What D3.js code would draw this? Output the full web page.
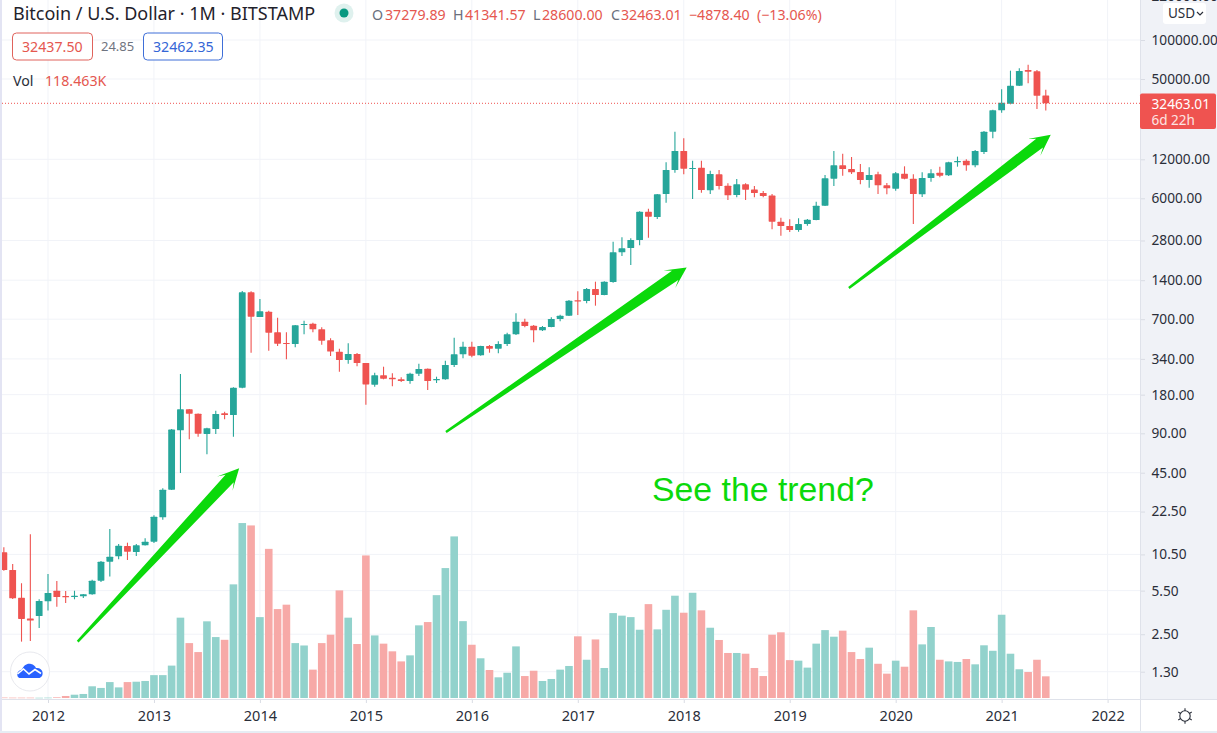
<!DOCTYPE html>
<html><head><meta charset="utf-8">
<script src="https://cdn.jsdelivr.net/npm/d3@7"></script>
<style>html,body{margin:0;padding:0;background:#fff;overflow:hidden}svg{display:block}text{font-family:"Noto Sans",sans-serif}</style>
</head><body><svg id="c" width="1217" height="733"></svg>
<script>
// Monthly candles, Aug 2011 (index 0) to Jun 2021
const open=[11.11,8.11,4.95,3.43,3.58,4.65,5.61,5.11,5.02,5.08,5.27,6.71,9.40,10.35,12.43,11.17,12.58,13.42,20.69,33.8,97.1,141,130.5,91,99.4,131.4,127.5,207,1129,727.7,800,554.5,458.4,450.4,631,646,585,480.9,393,339,377,321.3,218.5,258.2,247.4,240.4,233.3,265.7,290.3,236.2,240.4,310,375,429.5,368.3,434.7,414.1,450.4,534.9,669.4,623.4,574.1,609.2,702.3,744.6,978.9,967,1197,1076,1355,2297,2480,2859,4729,4304,6478,9921,13910,10100,10338,6913,9186,7501,6364,7694,7023,6594,6293,3959,3668,3416,3800,4081,5261,8504,10788,10100,9575,8306,9186,7559,7118,9290,8504,6444,8608,9458,9030,11372,11705,10788,13665,19595,28650,32235,44390,58680,57300,37279.89];
const high=[12.15,9.03,6.41,15.3,4.82,7.56,6.67,5.59,5.61,5.30,6.83,9.52,16.81,12.88,13.18,12.88,14.25,21.44,34.65,99.4,264,141.9,131,101.8,137.6,135.2,208.5,1155,1148,1002,814.5,718.5,554.5,632,681.3,657.7,605.9,498.4,414.1,456,383.7,321.5,270.3,300.8,267.4,249.2,270.3,317.4,291,251.8,334.7,503.7,468.8,468.8,437.1,442.4,472.4,550.5,777,705.9,631,620,723.8,758,984.4,1148,1218,1363,1372,2774,3000,2947,4761,4987,6478,11372,19595,17430,11705,11705,9798,9921,7831,8455,7831,7466,6833,6478,4252,4131,4204,4153,5647,9079,13910,13253,12500,11038,10408,9625,7875,9575,10595,9186,9523,10044,10523,11496,12585,12000,14158,19843,28980,41630,57960,60470,64470,58680,41341.57];
const low=[8.0,4.85,2.27,2.30,2.89,3.94,4.22,4.51,4.82,4.93,5.23,6.56,7.21,9.81,9.69,10.41,12.55,13.11,19.83,33.6,45.5,82.8,86.7,63.4,91,118.1,86.7,205,385.8,727,400,434.7,343,424.8,534.9,554.5,444.9,363.8,275.3,317.4,302.9,153.1,210.8,240.4,212.4,229.2,222.4,255,198.9,225.2,238.8,299.2,349.2,355.4,365.8,385.8,381.7,434.7,528.4,605.9,463.9,567.4,605.9,674.2,740.7,754,927.8,889.7,1070,1339,2152,1834,2602,2978,4153,5549,9458,9186,5926,6626,6478,7023,5821,6107,5821,6107,6107,3456,3087,3297,3313,3689,4058,5233,7466,8965,9241,7694,7245,6478,6444,6871,8409,3800,6140,8059,8715,8919,10523,9798,10408,13188,17430,27485,31895,44100,46320,29340,28600];
const close=[8.11,4.90,3.40,3.30,4.68,5.39,5.02,4.99,5.14,5.27,6.71,9.40,10.28,12.50,11.23,12.58,13.42,20.91,33.8,98.3,141,130.5,91.4,100.7,129.8,127.5,207,1129,731.6,805,550.5,452.8,450.4,627.7,642.6,584.9,477.6,393.3,338.9,377,321.3,219.4,258.2,243,240.4,233.3,265.7,288.8,233.3,241.7,310,375,429.5,365.8,434.7,414.1,450.4,534.9,669.4,620,574.1,609.2,702.3,744.6,972.2,961.7,1197,1076,1363,2297,2467,2859,4729,4326,6444,9921,13910,10156,10281,6955,9241,7466,6333,7694,6994,6594,6250,3959,3668,3416,3800,4105,5261,8557,10788,10100,9523,8306,9079,7559,7163,9358,8504,6478,8608,9358,8965,11372,11643,10788,13910,19595,28650,32840,44390,57650,56940,37160,32463.01];
const volume=[2.5,2,2,2,1.5,2,3.6,11,18,22,64,55,87,58,87,89,93,125,125,177,439,300,251,419,333,318,621,956,943,442,815,486,510,300,287,155,300,346,588,439,295,779,342,297,255,200,233,397,415,562,710,883,420,291,217,153,113,138,282,120,149,93,104,155,175,337,209,320,164,464,450,442,373,513,375,482,559,466,575,479,384,317,246,246,242,164,120,346,359,207,204,166,297,371,335,368,251,213,275,187,133,204,171,479,293,388,209,200,197,213,184,288,258,455,242,157,142,209,118.463];
// Price axis: where each gridline sits on the log scale, and the label printed beside it
const priceTicks=[220000,100000,50000,12000,6000,2835,1400,700,345.5,183,92.1,45.7,22.9,10.7,5.62,2.59,1.33];
const priceLabels=['220000.00','100000.00','50000.00','12000.00','6000.00','2800.00','1400.00','700.00','340.00','180.00','90.00','45.00','22.50','10.50','5.50','2.50','1.30'];
const yearTicks=[2012,2013,2014,2015,2016,2017,2018,2019,2020,2021,2022];
// Trend arrows: [month index, price] tail and tip
const arrowFrom=[[8.36,2.27],[50.07,94.2],[95.7,1218]];
const arrowTo=[[26.65,49.5],[77.33,1756],[118.56,18580]];

const UP='#26a69a',DOWN='#ef5350',UPV='#92d2cc',DOWNV='#f7a9a7',GRID='#f1f3f8',AXISBG='#f0f2f7',LINE='#dfe2ea',TXT='#2a2e39',GREEN='#0bd90b';
const W=1217,H=733,PR=1140,PB=699;
const FONT='"Noto Sans",sans-serif';
const svg=d3.select('#c');
const yearIdx=y=>(y-2011)*12-7;
const x=d3.scaleLinear().domain([0,125]).range([3.85,1107.6]);
const y=d3.scaleLog().domain([1.3,100000]).range([673,40]);
const v=d3.scaleLinear().domain([0,1000]).range([698,515]);

svg.append('rect').attr('width',W).attr('height',H).attr('fill','#fff');
svg.append('rect').attr('x',PR).attr('y',0).attr('width',W-PR).attr('height',PB).attr('fill',AXISBG);
// grid
const grid=svg.append('g');
grid.selectAll('.h').data(priceTicks.slice(1)).join('line').attr('x1',2).attr('x2',PR).attr('y1',d=>y(d)).attr('y2',d=>y(d)).attr('stroke',GRID).attr('stroke-width',1);
grid.selectAll('.v').data(yearTicks).join('line').attr('x1',d=>x(yearIdx(d))).attr('x2',d=>x(yearIdx(d))).attr('y1',0).attr('y2',PB).attr('stroke',GRID).attr('stroke-width',1);

// volume
const vw=7.6;
svg.append('g').selectAll('rect').data(volume).join('rect')
 .attr('x',(d,i)=>x(i)-vw/2).attr('width',vw).attr('y',d=>v(d)).attr('height',d=>Math.max(0.6,v(0)-v(d)))
 .attr('fill',(d,i)=>close[i]>=open[i]?UPV:DOWNV);

// candles
const cw=6.8,cg=svg.append('g');
const col=i=>close[i]>=open[i]?UP:DOWN;
cg.selectAll('line').data(d3.range(open.length)).join('line')
 .attr('x1',i=>x(i)).attr('x2',i=>x(i)).attr('y1',i=>y(high[i])).attr('y2',i=>y(low[i])).attr('stroke',col).attr('stroke-width',1.1);
cg.selectAll('rect').data(d3.range(open.length)).join('rect')
 .attr('x',i=>x(i)-cw/2).attr('width',cw)
 .attr('y',i=>y(Math.max(open[i],close[i])))
 .attr('height',i=>Math.max(1.1,Math.abs(y(open[i])-y(close[i])))).attr('rx',0.6).attr('fill',col);

// last price line
const last=close[close.length-1];
svg.append('line').attr('x1',2).attr('x2',PR).attr('y1',y(last)).attr('y2',y(last)).attr('stroke',DOWN).attr('stroke-width',1).attr('stroke-dasharray','1 2');

// arrows
const line=d3.line();
const arrowPts=(a,b)=>{
  const p=[x(a[0]),y(a[1])],q=[x(b[0]),y(b[1])];
  const L=Math.hypot(q[0]-p[0],q[1]-p[1]),ux=(q[0]-p[0])/L,uy=(q[1]-p[1])/L,nx=-uy,ny=ux;
  const at=(al,pe)=>[q[0]+ux*al+nx*pe,q[1]+uy*al+ny*pe];
  return [[p[0]+nx*1.2,p[1]+ny*1.2],at(-14,5.6),at(-21,10.5),q,at(-21,-10.5),at(-14,-5.6),[p[0]-nx*1.2,p[1]-ny*1.2]];
};
svg.append('g').selectAll('path').data(arrowFrom).join('path')
 .attr('d',(d,i)=>line(arrowPts(d,arrowTo[i]))+'Z').attr('fill',GREEN);
svg.append('text').attr('x',652).attr('y',501).text('See the trend?').attr('fill',GREEN)
 .style('font-family','"Liberation Sans",Arial,sans-serif').style('font-size','33.8px');

// axes via d3
const axR=d3.axisRight(y).tickValues(priceTicks).tickFormat((d,i)=>priceLabels[i]).tickSize(5).tickPadding(6);
const gR=svg.append('g').attr('transform',`translate(${PR},0)`).call(axR);
gR.select('.domain').remove();
gR.selectAll('line').attr('stroke','#d9dce4');
gR.selectAll('text').attr('fill',TXT).style('font-family',FONT).style('font-size','13.7px').attr('x',11.5);
const axB=d3.axisBottom(d3.scaleLinear().domain(x.domain()).range(x.range())).tickValues(yearTicks.map(yearIdx)).tickFormat((d,i)=>yearTicks[i]).tickSize(4).tickPadding(8);
const gB=svg.append('g').attr('transform',`translate(0,${PB})`).call(axB);
gB.select('.domain').remove();
gB.selectAll('line').attr('stroke','#d9dce4');
gB.selectAll('text').attr('fill',TXT).style('font-family',FONT).style('font-size','14.5px');
svg.append('line').attr('x1',0).attr('x2',W).attr('y1',PB+.5).attr('y2',PB+.5).attr('stroke',LINE);
svg.append('line').attr('x1',PR+.5).attr('x2',PR+.5).attr('y1',0).attr('y2',H).attr('stroke',LINE);
// edges
svg.append('rect').attr('x',0).attr('y',0).attr('width',2).attr('height',H).attr('fill','#e3e4f3');
svg.append('rect').attr('x',0).attr('y',H-2).attr('width',W).attr('height',2).attr('fill','#e6edf4');

// USD button
svg.append('rect').attr('x',1163).attr('y',3).attr('width',43).attr('height',21).attr('rx',3).attr('fill','#fff');
const T=(t,xx,yy,c,s)=>svg.append('text').attr('x',xx).attr('y',yy).text(t).attr('fill',c).style('font-size',s+'px');
T('USD',1168,18,TXT,13.5);
svg.append('path').attr('d','M1197 12l3 3 3-3').attr('fill','none').attr('stroke',TXT).attr('stroke-width',1.2);

// last price tag
svg.append('rect').attr('x',PR).attr('y',93.5).attr('width',76).attr('height',35.5).attr('rx',2).attr('fill',DOWN);
T(d3.format('.2f')(last),1151.5,109,'#fff',13.7);
T('6d 22h',1151.5,125,'#fde3e2',13.5);

// header
const RED='#e5574f',GR='#6a6f7d';
T('Bitcoin / U.S. Dollar · 1M · BITSTAMP',13,19.5,'#1f222b',18);
svg.append('circle').attr('cx',344).attr('cy',13).attr('r',9.5).attr('fill','#dff1ee');
svg.append('circle').attr('cx',344).attr('cy',13).attr('r',4.5).attr('fill','#089981');
[['O',372,GR],['37279.89',385,RED],['H',453,GR],['41341.57',465,RED],['L',533,GR],['28600.00',542,RED],['C',611,GR],['32463.01',621,RED],['−4878.40',689,RED],['(−13.06%)',757,RED]]
 .forEach(d=>T(d[0],d[1],20,d[2],14.2));
svg.append('rect').attr('x',12.5).attr('y',33).attr('width',80).attr('height',27).attr('rx',4).attr('fill','#fff').attr('stroke','#e0635c');
T('32437.50',22,52,RED,14.2);
T('24.85',101,51,'#6f7480',13);
svg.append('rect').attr('x',143.5).attr('y',33).attr('width',79).attr('height',27).attr('rx',4).attr('fill','#fff').attr('stroke','#3f6fd8');
T('32462.35',153,52,'#3566d6',14.2);
T('Vol',13,86,TXT,14.2);
T('118.463K',45,86,RED,14.2);

// logo
svg.append('circle').attr('cx',30).attr('cy',671.5).attr('r',19.5).attr('fill','#fff').attr('stroke','#e8e9ee');
svg.append('path').attr('d','M17.5 676c-1-4 2-6 4.500-6.500 1.500-4 5-6.500 9-5.500 2.500.5 4 2 5 4 3.500-.5 6 1.500 6.500 4 .5 3-.5 5-3 6h-19c-1.500 0-2.500-.5-3-2z').attr('fill','#2962ff');
svg.append('path').attr('d','M17.500 674l6-5 5.500 5 6-4.500 6 4').attr('fill','none').attr('stroke','#fff').attr('stroke-width',1.6);

// settings icon
const sun=svg.append('g').attr('stroke','#2a2e39').attr('fill','none').attr('stroke-width',1.1);
sun.append('circle').attr('cx',1185).attr('cy',716).attr('r',5.2);
d3.range(6).forEach(k=>{const a=k*Math.PI/3+Math.PI/6;sun.append('line').attr('x1',1185+5*Math.cos(a)).attr('y1',716+5*Math.sin(a)).attr('x2',1185+7.8*Math.cos(a)).attr('y2',716+7.8*Math.sin(a));});
</script></body></html>
